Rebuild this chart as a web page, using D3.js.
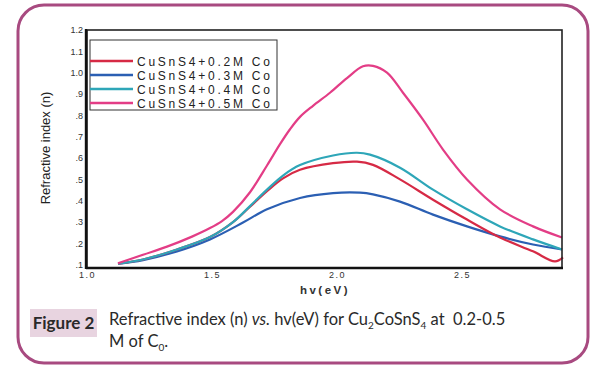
<!DOCTYPE html>
<html><head><meta charset="utf-8">
<script src="https://cdn.jsdelivr.net/npm/d3@7"></script>
<style>html,body{margin:0;padding:0;background:#fff;}</style>
</head><body>
<svg id="c" width="601" height="367"></svg>
<script>
const seriesNames = ["CuSnS4+0.2M Co","CuSnS4+0.3M Co","CuSnS4+0.4M Co","CuSnS4+0.5M Co"];
const seriesColors = ["#d62a45","#2b5fb3","#2ea6b8","#e33d86"];
const xTicks = [1.0,1.5,2.0,2.5];
const yTicks = [0.1,0.2,0.3,0.4,0.5,0.6,0.7,0.8,0.9,1.0,1.1,1.2];
const yTickLabels = [".1",".2",".3",".4",".5",".6",".7",".8",".9","1.0","1.1","1.2"];
// hv (eV), n
const red02 = [[1.124,0.105],[1.224,0.125],[1.36,0.172],[1.492,0.23],[1.584,0.3],[1.652,0.372],[1.72,0.445],[1.784,0.505],[1.852,0.545],[1.984,0.576],[2.08,0.583],[2.144,0.568],[2.252,0.5],[2.384,0.405],[2.52,0.312],[2.652,0.228],[2.784,0.163],[2.872,0.116],[2.904,0.135]];
const blue03 = [[1.124,0.105],[1.224,0.122],[1.36,0.163],[1.492,0.219],[1.624,0.298],[1.72,0.36],[1.852,0.413],[1.984,0.436],[2.092,0.438],[2.144,0.43],[2.252,0.396],[2.384,0.335],[2.52,0.28],[2.652,0.233],[2.784,0.195],[2.9,0.172]];
const teal04 = [[1.124,0.105],[1.224,0.125],[1.36,0.172],[1.492,0.23],[1.584,0.3],[1.652,0.375],[1.72,0.452],[1.784,0.518],[1.852,0.567],[1.984,0.612],[2.08,0.625],[2.132,0.616],[2.252,0.555],[2.384,0.452],[2.52,0.36],[2.652,0.28],[2.784,0.219],[2.9,0.172]];
const pink05 = [[1.124,0.107],[1.224,0.147],[1.32,0.185],[1.42,0.232],[1.492,0.272],[1.54,0.305],[1.584,0.348],[1.652,0.44],[1.72,0.565],[1.772,0.665],[1.812,0.735],[1.852,0.793],[1.904,0.845],[1.972,0.906],[2.04,0.975],[2.104,1.03],[2.144,1.032],[2.2,1.0],[2.264,0.906],[2.344,0.78],[2.424,0.64],[2.52,0.5],[2.652,0.36],[2.784,0.28],[2.9,0.228]];
const seriesData = [red02, blue03, teal04, pink05];

const svg = d3.select("#c");
// outer rounded border
svg.append("rect").attr("x",18).attr("y",5).attr("width",570).attr("height",358)
  .attr("rx",26).attr("ry",26).attr("fill","none").attr("stroke","#a84a80").attr("stroke-width",3);

const x = d3.scaleLinear().domain([1.0,2.9]).range([87,562]);
const y = d3.scaleLinear().domain([0.085,1.2]).range([268,30]);

// curves
const line = d3.line().x(d=>x(d[0])).y(d=>y(d[1])).curve(d3.curveCatmullRom.alpha(0.5));
const order = [1,0,2,3];
order.forEach(i=>{
  svg.append("path").attr("d",line(seriesData[i])).attr("fill","none")
    .attr("stroke",seriesColors[i]).attr("stroke-width",2.2).attr("stroke-linejoin","round");
});

// frame
svg.append("rect").attr("x",87).attr("y",30).attr("width",475).attr("height",238)
  .attr("fill","none").attr("stroke","#222").attr("stroke-width",1.6);
svg.append("line").attr("x1",86).attr("x2",86).attr("y1",29).attr("y2",269).attr("stroke","#111").attr("stroke-width",2.4);
svg.append("line").attr("x1",86).attr("x2",563).attr("y1",268).attr("y2",268).attr("stroke","#111").attr("stroke-width",2.4);

// axes
const yAxis = d3.axisLeft(y).tickValues(yTicks).tickSize(0).tickPadding(3)
  .tickFormat((d,i)=>yTickLabels[i]);
const gy = svg.append("g").attr("transform","translate(86,0)").call(yAxis);
gy.select(".domain").remove();
gy.selectAll("text").attr("font-family","Liberation Sans, Arial").attr("font-size",9).attr("fill","#333");

const xAxis = d3.axisBottom(x).tickValues(xTicks).tickSize(0).tickPadding(4).tickFormat(d3.format(".1f"));
const gx = svg.append("g").attr("transform","translate(0,268)").call(xAxis);
gx.select(".domain").remove();
gx.selectAll("text").attr("font-family","Liberation Sans, Arial").attr("font-size",9).attr("fill","#333").attr("letter-spacing","1.5px");

// axis titles
svg.append("text").attr("transform","translate(50,148) rotate(-90)").attr("text-anchor","middle")
  .attr("font-family","Liberation Sans, Arial").attr("font-size",13).attr("fill","#222").text("Refractive index (n)");
svg.append("text").attr("x",325).attr("y",294).attr("text-anchor","middle")
  .attr("font-family","Liberation Sans, Arial").attr("font-size",11.5).attr("font-weight","bold")
  .attr("letter-spacing","2.5px").attr("fill","#333").text("hv(eV)");

// legend
svg.append("rect").attr("x",90).attr("y",40).attr("width",187).attr("height",70)
  .attr("fill","#fff").attr("stroke","#333").attr("stroke-width",1);
seriesNames.forEach((n,i)=>{
  const yy = 61 + i*14;
  svg.append("line").attr("x1",90).attr("x2",133).attr("y1",yy).attr("y2",yy)
    .attr("stroke",seriesColors[i]).attr("stroke-width",2.5);
  svg.append("text").attr("x",137).attr("y",yy+4.5).attr("font-family","Liberation Sans, Arial")
    .attr("font-size",12).attr("letter-spacing","2.75px").attr("fill","#222").text(n);
});

// caption
svg.append("rect").attr("x",30).attr("y",309).attr("width",67).attr("height",28).attr("fill","#e8d4e0");
svg.append("text").attr("x",63.5).attr("y",329).attr("text-anchor","middle").attr("font-family","Lato, Open Sans")
  .attr("font-weight","bold").attr("font-size",17).attr("fill","#2a2a2a").text("Figure 2");
const cap = svg.append("text").attr("x",109).attr("y",325).attr("font-family","Lato, Open Sans")
  .attr("font-size",16.5).attr("fill","#2a2a2a");
cap.append("tspan").text("Refractive index (n) ");
cap.append("tspan").attr("font-style","italic").text("vs.");
cap.append("tspan").text(" hv(eV) for Cu");
cap.append("tspan").attr("font-size",10).attr("dy",4).text("2");
cap.append("tspan").attr("dy",-4).text("CoSnS");
cap.append("tspan").attr("font-size",10).attr("dy",4).text("4");
cap.append("tspan").attr("dy",-4).text(" at \u00a00.2-0.5");
const cap2 = svg.append("text").attr("x",109).attr("y",347).attr("font-family","Lato, Open Sans")
  .attr("font-size",16.5).attr("fill","#2a2a2a");
cap2.append("tspan").text("M of C");
cap2.append("tspan").attr("font-size",10).attr("dy",4).text("0");
cap2.append("tspan").attr("dy",-4).text(".");
</script>
</body></html>
